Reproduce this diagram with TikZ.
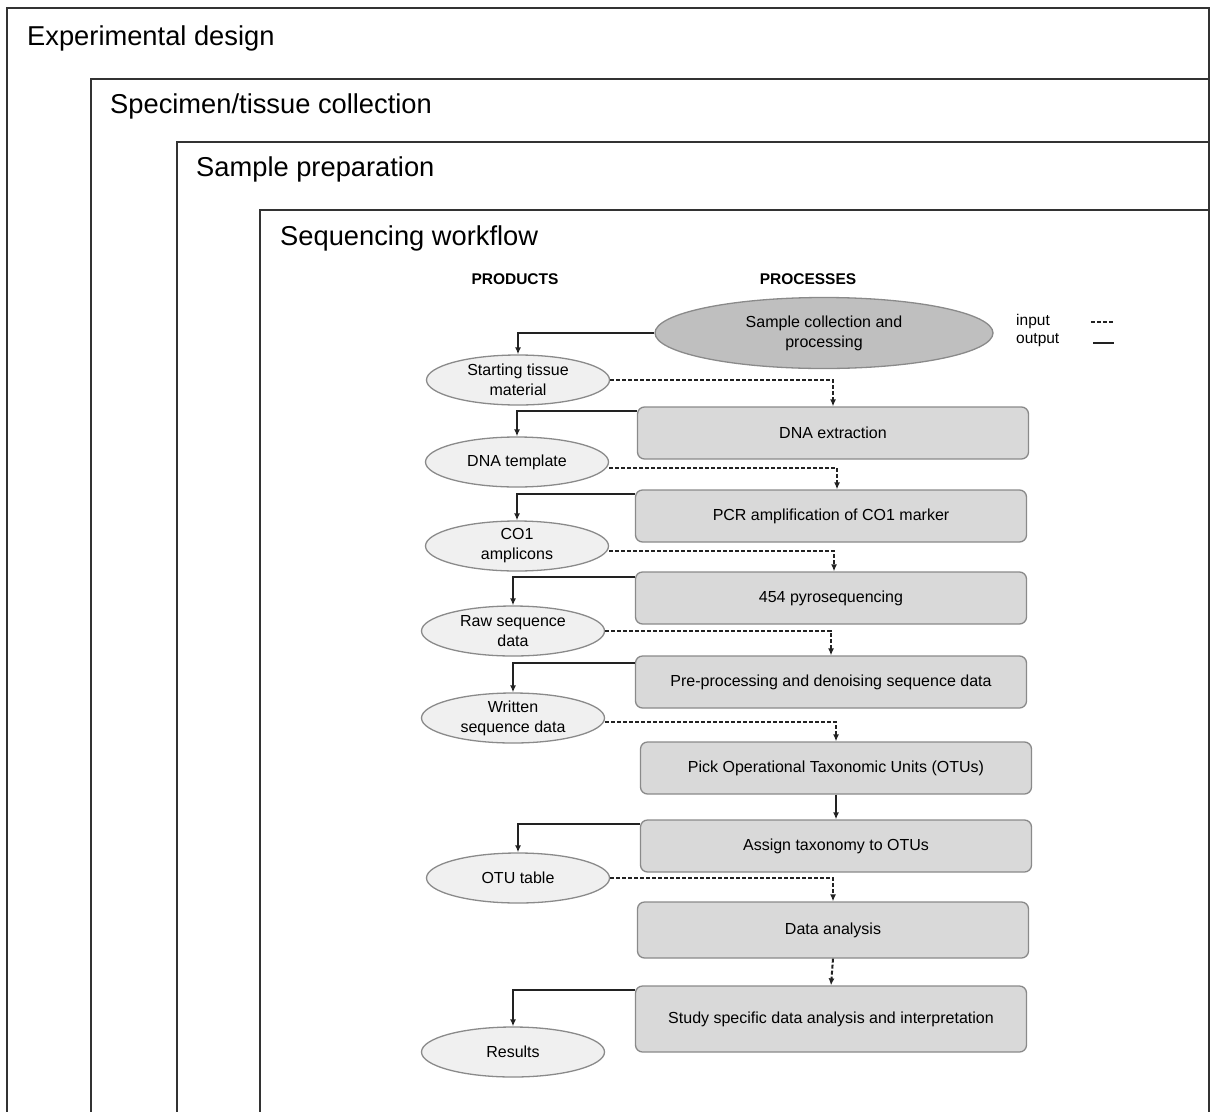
\documentclass[tikz,border=0pt]{standalone}
\usepackage{fontspec}
\setmainfont{Liberation Sans}
\usetikzlibrary{shapes.geometric,arrows.meta,calc}
\definecolor{framec}{HTML}{333333}
\definecolor{linec}{HTML}{222222}
\definecolor{procfill}{HTML}{D9D9D9}
\definecolor{procdraw}{HTML}{8A8A8A}
\definecolor{prodfill}{HTML}{F0F0F0}
\definecolor{prodfill2}{HTML}{BFBFBF}
\begin{document}
\begin{tikzpicture}[x=1pt,y=-1pt,
  frame/.style={draw=framec,line width=2.2pt},
  ftitle/.style={anchor=west,inner sep=0pt,font=\fontsize{27.3}{32}\selectfont},
  head/.style={inner sep=0pt,font=\bfseries\fontsize{15.5}{18}\selectfont},
  prod/.style={ellipse,draw=procdraw,fill=prodfill,line width=1.3pt,minimum width=183pt,minimum height=50pt,inner sep=0pt,align=center,font=\fontsize{16}{20}\selectfont},
  proc/.style={rectangle,rounded corners=7pt,draw=procdraw,fill=procfill,line width=1.3pt,minimum width=391pt,minimum height=52pt,inner sep=0pt,align=center,font=\fontsize{16}{20}\selectfont},
  outp/.style={draw=linec,line width=2.2pt,-{Latex[length=7pt,width=6pt]}},
  inp/.style={draw=linec,line width=2pt,dash pattern=on 4pt off 2pt,-{Latex[length=7pt,width=6pt]}},
  legtext/.style={anchor=west,inner sep=0pt,font=\fontsize{15.5}{18}\selectfont}
]
\useasboundingbox (0,0) rectangle (1212,1111);
% nested frames (open at the bottom)
\draw[frame] (7,1116) -- (7,8) -- (1209,8) -- (1209,1116);
\draw[frame] (91,1116) -- (91,79) -- (1209,79);
\draw[frame] (177,1116) -- (177,142) -- (1209,142);
\draw[frame] (260,1116) -- (260,210) -- (1209,210);
\node[ftitle] (t1) at (27,38.5) {Experimental design};
\node[ftitle] (t2) at (110,106.5) {Specimen/tissue collection};
\node[ftitle] (t3) at (196,169.5) {Sample preparation};
\node[ftitle] (t4) at (280,238.5) {Sequencing workflow};
% headers
\node[head] (hprod) at (515,279) {PRODUCTS};
\node[head] (hproc) at (808,279) {PROCESSES};
% legend
\node[legtext] (lin) at (1016,321) {input};
\node[legtext] (lout) at (1016,340) {output};
\coordinate (la) at (1091,322);
\coordinate (lb) at (1114,322);
\coordinate (lc) at (1093,343);
\coordinate (ld) at (1114,343);
\draw[draw=linec,line width=2pt,dash pattern=on 4pt off 2pt] (la) -- (lb);
\draw[draw=linec,line width=2.2pt] (lc) -- (ld);
% start process
\node[prod,fill=prodfill2,minimum width=338pt,minimum height=71pt] (top) at (824,333) {Sample collection and\\processing};
% products
\node[prod] (p1) at (518,380) {Starting tissue\\material};
\node[prod] (p2) at (517,462) {DNA template};
\node[prod] (p3) at (517,546) {CO1\\amplicons};
\node[prod] (p4) at (513,631) {Raw sequence\\data};
\node[prod] (p5) at (513,718) {Written\\sequence data};
\node[prod] (p6) at (518,878) {OTU table};
\node[prod] (p7) at (513,1052) {Results};
% processes
\node[proc] (b1) at (833,433) {DNA extraction};
\node[proc] (b2) at (831,516) {PCR amplification of CO1 marker};
\node[proc] (b3) at (831,598) {454 pyrosequencing};
\node[proc] (b4) at (831,682) {Pre-processing and denoising sequence data};
\node[proc] (b5) at (836,768) {Pick Operational Taxonomic Units (OTUs)};
\node[proc] (b6) at (836,846) {Assign taxonomy to OTUs};
\node[proc,minimum height=56pt] (b7) at (833,930) {Data analysis};
\node[proc,minimum height=66pt] (b8) at (831,1019) {Study specific data analysis and interpretation};
% outputs
\draw[outp] (top.west) -| (p1.north);
\draw[outp] ($(b1.north west)+(0,5)$) -| (p2.north);
\draw[outp] ($(b2.north west)+(0,5)$) -| (p3.north);
\draw[outp] ($(b3.north west)+(0,6)$) -| (p4.north);
\draw[outp] ($(b4.north west)+(0,8)$) -| (p5.north);
\draw[outp] ($(b6.north west)+(0,5)$) -| (p6.north);
\draw[outp] ($(b8.north west)+(0,5)$) -| (p7.north);
\draw[outp] (b5.south) -- (b6.north);
% inputs
\draw[inp] (p1.east) -| (b1.north);
\draw[inp] ($(p2.east)+(0,6)$) -| ($(b2.north)+(6,0)$);
\draw[inp] ($(p3.east)+(0,5)$) -| ($(b3.north)+(3,0)$);
\draw[inp] (p4.east) -| (b4.north);
\draw[inp] ($(p5.east)+(0,4)$) -| (b5.north);
\draw[inp] (p6.east) -| (b7.north);
\draw[inp] (b7.south) -- (b8.north);
\end{tikzpicture}
\end{document}
